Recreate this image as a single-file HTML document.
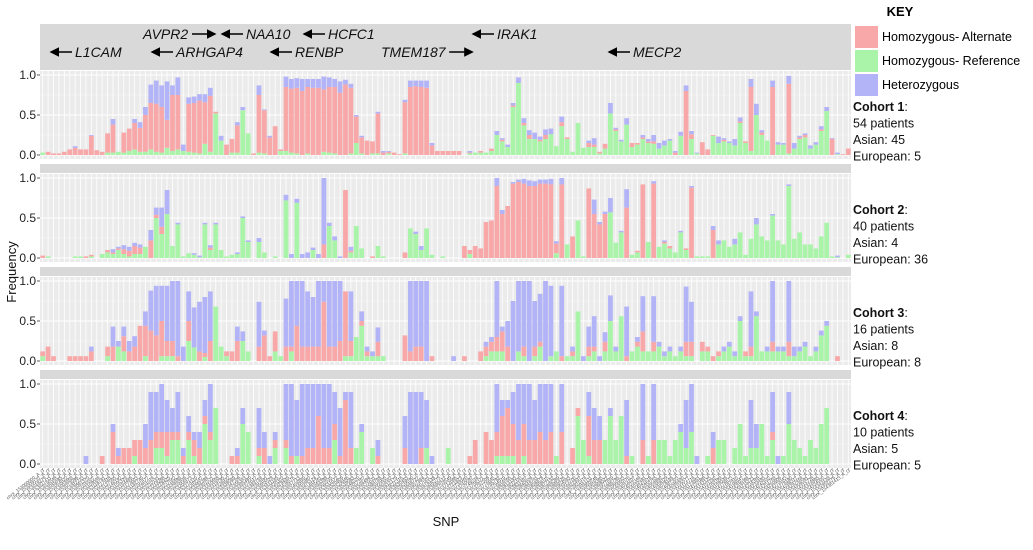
<!DOCTYPE html>
<html><head><meta charset="utf-8">
<style>
html,body{margin:0;padding:0;background:#fff;}
svg{display:block;font-family:"Liberation Sans",sans-serif;}
</style></head>
<body>
<svg id="chart" width="1033" height="550" viewBox="0 0 1033 550" xmlns="http://www.w3.org/2000/svg">
<defs>
<marker id="ah" markerWidth="6" markerHeight="6" refX="5" refY="3" orient="auto"><path d="M0,0 L6,3 L0,6 z" fill="#000"/></marker>
</defs>
<rect x="40" y="24" width="811" height="46" fill="#d9d9d9"/>
<g id="genes" font-style="italic" font-size="14" fill="#111"></g>
<g id="panels"></g>
<text x="16" y="272" font-size="13" text-anchor="middle" transform="rotate(-90 16 272)" fill="#111">Frequency</text>
<text x="446" y="526" font-size="13" text-anchor="middle" fill="#111">SNP</text>
<g>
<text x="900" y="16" font-size="13" font-weight="bold" text-anchor="middle">KEY</text>
<rect x="855" y="26" width="23" height="22" fill="#F8A8A8"/>
<rect x="855" y="50" width="23" height="22" fill="#A9F4A9"/>
<rect x="855" y="74" width="23" height="22" fill="#B3B3F8"/>
<text x="882" y="41" font-size="12.5">Homozygous- Alternate</text>
<text x="882" y="65" font-size="12.5">Homozygous- Reference</text>
<text x="882" y="89" font-size="12.5">Heterozygous</text>
</g>
<g id="cohorts" font-size="12.5" fill="#111"></g>
</svg>
<script>
const c1Alt=[0,.04,.02,.02,.04,.07,.09,.07,.07,.24,.06,.04,.24,.35,0,.25,.28,.33,.30,.46,.58,.6,.57,.35,.7,.68,0,.6,.62,.66,.52,.7,.02,0,.13,.17,.34,0,0,.02,.72,.54,.22,.36,.02,.8,.8,.82,.8,.83,.84,.84,.78,.82,.83,.78,.88,.82,.33,.2,.18,.15,.5,.03,.02,.03,.01,.64,.85,.86,.85,.84,.12,.05,.05,.05,.05,.05,0,.01,0,.02,0,.03,0,.02,0,.02,0,.03,.05,0,.02,.05,0,0,.05,.02,0,0,0,.05,.03,.02,.06,0,.02,0,0,.05,.02,.02,.02,.03,0,0,0,.03,0,.8,.06,0,.16,.07,.01,0,.02,0,0,.02,.02,.8,0,.03,0,.85,0,0,.87,0,.02,.03,0,0,.02,0,.2,0,.01,.08];
const c1Ref=[.03,0,0,0,0,0,0,0,0,0,0,0,.03,.03,.04,.03,.05,.07,.04,.04,.07,.04,.03,.09,.05,.07,.05,.04,.03,.02,.14,.04,.52,.18,0,.03,.03,.56,.27,0,.03,.02,0,0,.05,.05,.03,.02,0,.02,0,0,.04,.03,.02,0,0,.02,.15,.02,0,.02,.02,0,.02,0,0,.02,0,0,0,0,0,0,0,0,0,0,0,.02,.03,.03,.03,.05,.25,.17,.1,.6,.9,.37,.2,.2,.17,.2,.26,.11,.36,.2,.04,.4,.09,.1,.1,.02,.08,.52,.3,.17,.38,.1,.13,.2,.15,.14,.08,.12,.18,0,.24,0,.2,.02,0,0,.24,.15,.17,.15,.12,.4,.15,.05,.5,.25,.18,0,.13,.13,.02,.08,.2,.22,.08,.13,.3,.55,0,.01,0,0];
const c1Het=[0,0,0,0,0,0,.02,0,0,.01,0,0,0,.07,0,0,0,.05,.07,.1,.23,.29,.27,.48,.12,.22,.08,.08,.08,.08,.1,.1,0,.06,0,0,.04,.04,0,0,.12,.01,.02,0,0,.13,.12,.12,.15,.1,.11,.11,.16,.12,.1,.14,.06,.05,.02,.02,0,0,.02,.02,.01,0,0,.03,.08,.07,.08,.09,.03,0,0,0,0,0,0,.02,0,0,0,0,.05,.02,.03,.03,.07,.06,.06,.08,.04,.07,.07,0,.07,0,0,0,0,.03,.08,0,0,.13,.02,.02,.08,0,0,.03,.03,.08,.07,.06,.02,.02,.05,.07,.04,.01,0,0,0,.08,.02,.02,.08,.05,0,.1,.14,.03,0,.08,.03,.02,.1,.07,.02,.02,.04,.03,.04,.05,.01,.02,0,0];

const c2Alt=[.03,0,0,0,0,0,0,0,.02,.02,0,0,.03,.02,.02,.06,.07,.1,.08,0,.22,.04,.09,0,0,0,0,0,0,0,0,.03,0,0,0,0,0,0,0,0,0,0,0,0,0,0,0,0,0,0,0,0,.17,0,0,0,.85,.02,0,0,0,.02,0,0,0,0,0,.07,0,0,0,0,0,0,0,0,0,0,.15,.05,.15,.12,.45,.47,.9,.55,.65,.93,.95,.93,.9,.9,.93,.93,.92,.12,.92,0,.27,0,0,.87,.55,.42,.55,0,0,0,.63,0,.02,.92,0,.93,0,.02,.03,0,0,.02,.88,0,0,0,.35,0,0,0,0,0,0,0,0,0,0,0,0,0,0,0,0,0,0,0,0,0,0,0,0,0];
const c2Ref=[0,.02,0,0,0,0,.02,.02,0,.02,0,.05,.07,.05,.1,.05,.02,.05,.05,.14,0,.5,.3,.55,.15,.42,.02,.06,.04,.01,.42,.1,.42,.1,.02,.04,.05,.5,.2,0,.2,.07,0,.02,0,.72,0,.69,0,0,.1,0,0,.4,.22,0,0,.07,.4,.12,0,0,.15,.02,0,0,0,0,.37,.3,.1,.37,.04,0,.02,0,0,0,0,.05,0,0,0,0,0,0,0,0,0,0,0,0,0,0,0,.06,0,.17,0,.47,.02,0,0,0,0,.57,.19,.32,0,.04,.07,0,.2,0,.14,.18,.12,.07,.32,.1,0,.02,.02,.02,0,.17,.22,.14,.17,.32,.04,.24,.42,.27,.22,.53,.22,.17,.9,.24,.32,.17,.17,.12,.27,.44,.02,.01,0,.04];
const c2Het=[0,0,0,0,0,0,0,0,0,0,0,0,0,.04,.02,.05,.05,.04,.04,0,.13,.09,.24,.3,0,.02,0,0,.02,.02,.02,.03,.02,0,0,0,.02,.02,.02,0,.05,0,0,0,0,.07,.05,.05,.05,.07,.03,.05,.83,.04,.05,.02,0,.05,0,0,0,0,0,0,0,0,0,0,0,.03,.05,0,0,0,0,0,0,0,0,0,0,0,0,0,.1,.05,0,.02,.03,.06,.07,.06,.05,.05,.07,.03,.08,0,0,0,0,0,.18,.03,.03,.18,0,.02,.23,0,0,0,0,.03,0,.02,0,0,.02,0,.02,0,0,0,.05,.05,0,0,.07,0,0,0,.08,0,0,.02,0,0,.02,0,0,0,0,0,0,0,0,.02,0,0];

const c3Alt=[.06,.18,.06,0,0,.06,.06,.06,.06,.12,0,0,.12,.18,0,.19,.12,.18,.44,.38,.38,.32,.44,.19,.19,.06,0,.25,0,.12,.05,.25,0,0,.06,.12,.25,0,0,0,.18,.32,.06,.25,0,.18,.06,.44,.18,.18,.18,.18,.74,.18,.18,.25,.81,.19,0,.06,.06,0,.18,0,0,0,0,.32,.12,.18,.18,0,.06,0,0,0,0,0,.06,0,0,.12,.12,.12,.18,.25,.18,0,0,.12,0,.12,.06,0,0,0,.06,0,.06,0,0,.12,.06,0,.12,0,0,0,.06,0,.06,.25,0,.12,0,0,0,0,0,.18,.18,0,.12,.06,.06,.06,0,0,0,0,.06,.12,0,0,0,.12,0,0,.18,0,0,0,0,0,0,0,0,.06,0,0];
const c3Ref=[.06,0,0,0,0,0,0,0,0,0,0,0,.06,0,.18,.12,0,0,0,.06,0,0,.06,.06,.06,0,0,.25,.17,0,.05,0,.68,.18,.06,0,0,.25,.12,0,0,0,0,.12,.06,0,.12,0,0,0,0,0,0,0,0,0,.06,.06,.3,.44,.06,.06,.06,.06,0,0,0,0,0,0,0,0,0,0,0,0,0,0,0,0,0,0,.06,.12,.12,.12,0,0,.12,.06,0,.06,.18,0,.06,.12,0,.06,.06,.62,0,.06,.12,0,.12,.5,.12,.56,0,.12,.18,.12,.12,.12,.18,.06,.12,.06,.12,.06,.06,0,.12,.12,0,.06,.12,.18,.06,.5,.06,.06,.56,.12,.12,.12,.12,.12,.06,.06,.12,.18,.06,.12,.32,.44,0,0,0,0];
const c3Het=[0,0,0,0,0,0,0,0,0,.06,0,0,0,.25,.07,.12,.13,.13,0,.18,.5,.62,.44,.69,.75,.94,.18,.37,.5,.62,.7,.62,0,0,0,0,.18,.12,0,0,.56,.06,0,0,0,.6,.82,.56,.82,.69,.62,.82,.26,.82,.82,.75,0,.62,0,.12,.06,.06,.18,0,0,0,0,0,.88,.82,.82,1,0,0,0,0,.06,0,0,0,0,0,.06,.06,.7,.06,.32,.75,.88,.82,1,.57,.6,1,.88,0,.88,0,.06,0,.06,.25,.38,.06,.12,.32,.06,0,.62,0,.06,.44,0,.57,.06,.06,.06,0,.06,.69,.5,0,0,0,0,0,.06,.06,.06,.06,0,.69,.06,0,.06,.76,.06,.06,.76,.12,.06,.06,0,.06,.06,.06,0,0,0,0];

const c4Alt=[0,0,0,0,0,0,0,0,0,0,0,.1,0,.4,.1,.2,.2,.2,.3,.2,.3,.2,.2,.3,.1,.1,.1,.1,.2,.2,.1,.1,0,0,0,.1,.1,0,0,0,.1,.2,0,.1,0,.1,.1,0,.1,.2,.2,.6,.2,.2,.2,.1,.8,.2,0,0,0,0,.1,0,0,0,0,.2,0,0,.2,0,0,0,0,0,0,0,0,.1,.3,0,.4,.3,.3,.5,.6,.4,.3,.4,.3,.3,.4,.3,.4,0,.4,0,.2,.1,0,.5,.3,.3,0,0,0,0,.1,0,0,.3,0,.3,0,0,0,0,0,0,0,0,0,0,.2,0,0,0,0,0,0,0,0,0,0,.1,0,0,0,0,0,0,0,0,0,0,0,0,0,0];
const c4Ref=[0,0,0,0,0,0,0,0,0,0,0,0,0,0,0,0,0,.1,0,0,0,.2,.2,.1,.3,.3,0,.3,.1,0,.5,.3,.7,0,0,0,0,.5,.4,0,.1,0,0,.2,0,.2,0,.1,0,0,0,0,0,0,.3,0,0,0,.2,.4,0,.2,0,0,0,0,0,0,0,0,0,.2,0,0,0,.2,0,0,0,0,0,0,0,0,.1,.1,.1,.1,0,.1,0,0,0,0,0,.1,0,0,0,.6,.3,.1,0,0,.3,.6,.3,.6,0,.1,0,0,.1,0,.3,.3,.1,.3,.4,.2,.4,0,0,.1,0,.3,.3,0,.2,.5,.1,.2,.2,.5,.1,.3,0,.1,.5,.3,.2,.1,.3,.2,.5,.7,0,0,0,0];
const c4Het=[0,0,0,0,0,0,0,0,.1,0,0,0,0,.1,.1,0,0,0,0,.3,.6,.5,.6,.4,.3,.5,.1,.2,.1,.2,.2,.6,0,0,0,0,.1,.2,0,0,.5,.2,.1,.1,0,.7,.9,.7,.9,.8,.8,.4,.8,.8,.4,.6,.1,.7,0,.1,0,0,.2,0,0,0,0,.4,.9,.9,.7,.6,.1,0,0,0,0,0,0,0,0,0,0,0,.6,.2,.1,.4,.7,.5,.7,.5,.6,.7,.6,0,.6,0,0,0,0,.3,.4,.3,0,.1,0,0,.7,0,0,.7,0,.7,0,0,0,0,.1,.6,.6,.1,0,0,.2,0,0,0,0,0,0,.6,.3,0,0,.5,.1,0,.4,0,0,0,0,0,0,0,0,0,0,0];

const yTicks=[0,0.5,1.0];
const yTickLabels=["0.0","0.5","1.0"];
const cohortLabels=["Cohort 1","Cohort 2","Cohort 3","Cohort 4"];
const cohortPatients=["54 patients","40 patients","16 patients","10 patients"];
const cohortAsian=["Asian: 45","Asian: 4","Asian: 8","Asian: 5"];
const cohortEuropean=["European: 5","European: 36","European: 8","European: 5"];

const NS='http://www.w3.org/2000/svg';
function mk(tag,attrs,parent){const e=document.createElementNS(NS,tag);for(const k in attrs)e.setAttribute(k,attrs[k]);parent.appendChild(e);return e;}
const panelsData=[[c1Alt,c1Ref,c1Het],[c2Alt,c2Ref,c2Het],[c3Alt,c3Ref,c3Het],[c4Alt,c4Ref,c4Het]];
const N=150, X0=40, X1=851, step=(X1-X0)/N;
const panelTop=[71,174,277,380];
const PH=88, unit=80;
const xPos=i=>X0+step*(i+0.5);
const colors={ref:"#A9F4A9",alt:"#F8A8A8",het:"#B3B3F8"};
const G=document.getElementById('panels');
panelsData.forEach((pd,p)=>{
  const top=panelTop[p];
  const yPos=v=>top+PH-4-v*unit;
  const g=mk('g',{},G);
  
  
  if(p>0){const s=mk('rect',{x:X0,y:top-10,width:X1-X0,height:9,fill:'#d9d9d9'},g);
    
    }
  const bg=mk('rect',{x:X0,y:top,width:X1-X0,height:PH,fill:'#ebebeb'},g);
  
  
  [0.25,0.75].forEach(v=>mk('line',{x1:X0,x2:X1,y1:yPos(v),y2:yPos(v),stroke:'#f6f6f6','stroke-width':0.6},g));
  yTicks.forEach((v,k)=>{
    mk('line',{x1:X0,x2:X1,y1:yPos(v),y2:yPos(v),stroke:'#fff','stroke-width':1.1},g);
    mk('line',{x1:X0-3,x2:X0,y1:yPos(v),y2:yPos(v),stroke:'#333','stroke-width':0.8},g);
    const t=mk('text',{x:X0-4,y:yPos(v)+4,'font-size':12,'text-anchor':'end',fill:'#222'},g);
    
    
    t.textContent=yTickLabels[k];
  });
  for(let i=0;i<N;i++)mk('line',{x1:xPos(i),x2:xPos(i),y1:top,y2:top+PH,stroke:'#fff','stroke-width':0.8},g);
  const [alt,ref,het]=pd;
  const bw=step*0.88;
  for(let i=0;i<N;i++){
    let base=0;
    [[ref[i]||0,'ref'],[alt[i]||0,'alt'],[het[i]||0,'het']].forEach(([v,key])=>{
      if(v<=0)return;
      const r=mk('rect',{x:xPos(i)-bw/2,width:bw,y:yPos(base+v),height:v*unit,fill:colors[key]},g);
      
      
      base+=v;
    });
  }
});
const XT=mk('g',{},document.getElementById('chart'));


for(let i=0;i<N;i++){
  mk('line',{x1:xPos(i),x2:xPos(i),y1:468,y2:470,stroke:'#555','stroke-width':0.5},XT);
  const x=xPos(i)+2,y=471;
  const t=mk('text',{x:x,y:y,'font-size':4.6,'text-anchor':'end',fill:'#555',transform:'rotate(-38 '+x+' '+y+')'},XT);
  
  
  t.textContent='chrX_'+(153000000+i*9137)+'_A_G';
}
const GL=document.getElementById('genes');
const genes=[
 {t:'AVPR2',x:143,y:39,dir:'r'},{t:'NAA10',x:221,y:39,dir:'l'},{t:'HCFC1',x:303,y:39,dir:'l'},{t:'IRAK1',x:472,y:39,dir:'l'},
 {t:'L1CAM',x:50,y:57,dir:'l'},{t:'ARHGAP4',x:151,y:57,dir:'l'},{t:'RENBP',x:270,y:57,dir:'l'},{t:'TMEM187',x:381,y:57,dir:'r'},{t:'MECP2',x:608,y:57,dir:'l'}];
genes.forEach(gd=>{
  const g=mk('g',{},GL);
  
  
  if(gd.dir==='l'){
    mk('line',{x1:gd.x+22,y1:gd.y-5,x2:gd.x+1,y2:gd.y-5,stroke:'#000','stroke-width':1.6,'marker-end':'url(#ah)'},g);
    const t=mk('text',{x:gd.x+25,y:gd.y},g);t.textContent=gd.t;
  }else{
    const t=mk('text',{x:gd.x,y:gd.y},g);t.textContent=gd.t;
    const w=gd.t.length*9.6;
    mk('line',{x1:gd.x+w+1,y1:gd.y-5,x2:gd.x+w+24,y2:gd.y-5,stroke:'#000','stroke-width':1.6,'marker-end':'url(#ah)'},g);
  }
});
const CG=document.getElementById('cohorts');
const cy=[111,214,317,420];
cohortLabels.forEach((c,p)=>{
  const g=mk('g',{},CG);
  
  
  const t=mk('text',{x:853,y:cy[p]},g);
  const b=mk('tspan',{'font-weight':'bold'},t);b.textContent=c;
  const s=mk('tspan',{},t);s.textContent=':';
  [cohortPatients[p],cohortAsian[p],cohortEuropean[p]].forEach((l,k)=>{
    const tt=mk('text',{x:853,y:cy[p]+16.5*(k+1)},g);tt.textContent=l;
  });
});
</script>
</body></html>
